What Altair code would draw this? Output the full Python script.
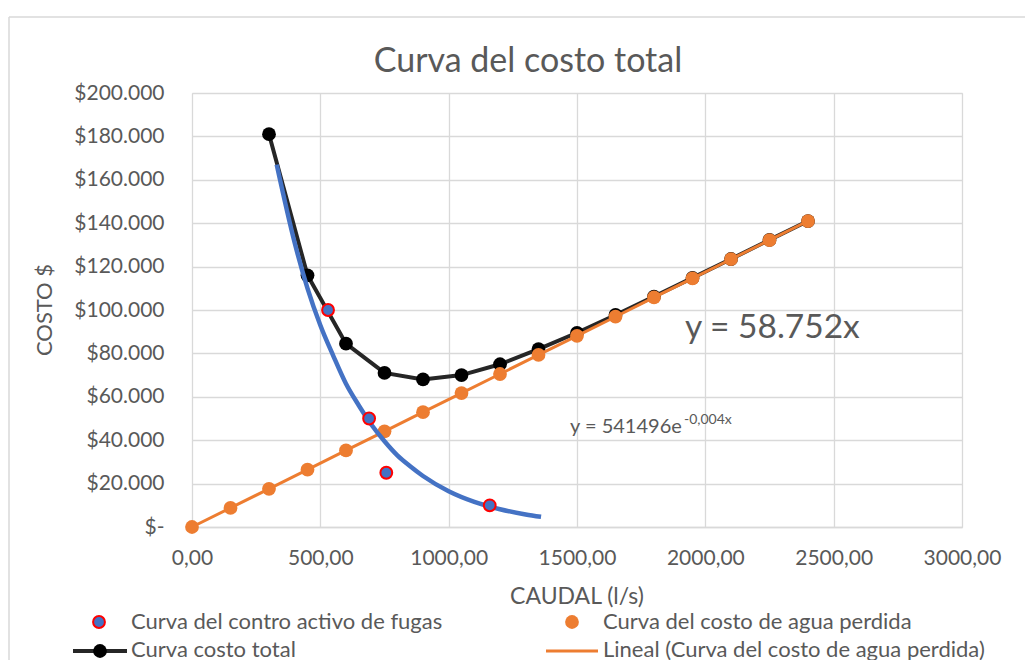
import altair as alt
import pandas as pd

# ---- data ----
agua_x = [0, 150, 300, 450, 600, 750, 900, 1050, 1200, 1350, 1500, 1650, 1800, 1950, 2100, 2250, 2400]
agua_y = [0, 8800, 17600, 26400, 35300, 44100, 52900, 61700, 70500, 79300, 88100, 96900, 105800, 114600, 123400, 132200, 141000]

total_x = [300, 450, 600, 750, 900, 1050, 1200, 1350, 1500, 1650, 1800, 1950, 2100, 2250, 2400]
total_y = [181000, 116000, 84500, 71000, 68000, 70000, 75000, 82000, 89500, 97700, 106200, 114800, 123500, 132300, 141000]

fugas_x = [530, 690, 757, 1160]
fugas_y = [100000, 50000, 25000, 10000]

trend_x = [330, 400, 450, 500, 550, 600, 650, 700, 750, 800, 850, 900, 1000, 1100, 1200, 1300, 1360]
trend_y = [167000, 131000, 110000, 93000, 79000, 66000, 56000, 47000, 39500, 33000, 28000, 23500, 16500, 11600, 8200, 5800, 4700]

TXT = "#595959"
FONT = "Lato"
BLUE = "#4472C4"
ORANGE = "#ED7D31"

agua = pd.DataFrame({"x": agua_x, "y": agua_y})
total = pd.DataFrame({"x": total_x, "y": total_y})
fugas = pd.DataFrame({"x": fugas_x, "y": fugas_y})
trend = pd.DataFrame({"x": trend_x, "y": trend_y})

W, H = 770, 434

xs = alt.Scale(domain=[0, 3000], nice=False)
ys = alt.Scale(domain=[0, 200000], nice=False)

xaxis = alt.Axis(values=[0, 500, 1000, 1500, 2000, 2500, 3000],
                 labelExpr="replace(format(datum.value, '.2f'), '.', ',')",
                 title=None, ticks=False, labelPadding=20, labelFontSize=21,
                 labelFlush=False, labelOverlap=False,
                 labelColor=TXT, labelFont=FONT, domain=True, domainColor="#d9d9d9",
                 domainWidth=1.5, gridColor="#d9d9d9", gridWidth=1.3)
yaxis = alt.Axis(values=list(range(0, 200001, 20000)),
                 labelExpr="datum.value == 0 ? '$-' : '$' + format(datum.value / 1000, 'd') + '.000'",
                 title=None, ticks=False, labelPadding=28, labelFontSize=21,
                 labelFlush=False, labelOverlap=False,
                 labelColor=TXT, labelFont=FONT, domain=False,
                 gridColor="#d9d9d9", gridWidth=1.3)

base_x = alt.X("x:Q", scale=xs, axis=xaxis)
base_y = alt.Y("y:Q", scale=ys, axis=yaxis)

total_line = alt.Chart(total).mark_line(color="#262626", strokeWidth=4).encode(x=base_x, y=base_y)
total_pts = alt.Chart(total).mark_circle(color="#000000", size=190, opacity=1).encode(x="x:Q", y="y:Q")

agua_line = alt.Chart(agua).mark_line(color=ORANGE, strokeWidth=3).encode(x="x:Q", y="y:Q")
agua_pts = alt.Chart(agua).mark_circle(color=ORANGE, size=190, opacity=1).encode(x="x:Q", y="y:Q")

trend_line = alt.Chart(trend).mark_line(color=BLUE, strokeWidth=4.5, interpolate="monotone").encode(x="x:Q", y="y:Q")
fugas_pts = alt.Chart(fugas).mark_point(shape="circle", filled=True, fill=BLUE, stroke="#FF0000",
                                        strokeWidth=2, size=140, opacity=1).encode(x="x:Q", y="y:Q")

one = pd.DataFrame({"a": [0]})


def txt(text, x, y, size, **kw):
    return alt.Chart(one).mark_text(text=text, fontSize=size, font=FONT, color=TXT, **kw).encode(
        x=alt.value(x), y=alt.value(y))


title = txt("Curva del costo total", 336, -31, 34, align="center", baseline="middle")
ytitle = txt("COSTO $", -147, 217, 22, align="center", baseline="middle", angle=270)
xtitle = txt("CAUDAL (l/s)", 385, 504, 23, align="center", baseline="middle")
eq1 = txt("y = 58.752x", 493, 235, 33.5, align="left", baseline="middle")
eq2 = txt("y = 541496e", 378, 334, 20, align="left", baseline="middle")
eq2s = txt("-0,004x", 492, 327, 14, align="left", baseline="middle")

# ---- legend ----
leg1_sym = alt.Chart(one).mark_point(shape="circle", filled=True, fill=BLUE, stroke="#FF0000",
                                     strokeWidth=2, size=140, opacity=1).encode(
    x=alt.value(99 - 192), y=alt.value(622 - 93))
leg1_txt = txt("Curva del contro activo de fugas", 131 - 192, 622 - 93, 22, align="left", baseline="middle")
leg2_sym = alt.Chart(one).mark_circle(color=ORANGE, size=190, opacity=1).encode(
    x=alt.value(572 - 192), y=alt.value(622 - 93))
leg2_txt = txt("Curva del costo de agua perdida", 603 - 192, 622 - 93, 22, align="left", baseline="middle")
leg3_line = alt.Chart(one).mark_rule(color="#262626", strokeWidth=4).encode(
    x=alt.value(73 - 192), x2=alt.value(127 - 192), y=alt.value(651 - 93))
leg3_sym = alt.Chart(one).mark_circle(color="#000000", size=190, opacity=1).encode(
    x=alt.value(100 - 192), y=alt.value(651 - 93))
leg3_txt = txt("Curva costo total", 131 - 192, 650 - 93, 22, align="left", baseline="middle")
leg4_line = alt.Chart(one).mark_rule(color=ORANGE, strokeWidth=3).encode(
    x=alt.value(546 - 192), x2=alt.value(598 - 192), y=alt.value(651 - 93))
leg4_txt = txt("Lineal (Curva del costo de agua perdida)", 603 - 192, 650 - 93, 22, align="left", baseline="middle")

# ---- chart area border ----
border_left = alt.Chart(one).mark_rule(color="#d9d9d9", strokeWidth=1.5).encode(
    x=alt.value(9 - 192), y=alt.value(17 - 93), y2=alt.value(700))
border_top = alt.Chart(one).mark_rule(color="#d9d9d9", strokeWidth=1.5).encode(
    x=alt.value(9 - 192), x2=alt.value(1100), y=alt.value(17 - 93))

chart = alt.layer(
    border_left, border_top,
    total_line, total_pts, agua_line, agua_pts, trend_line, fugas_pts,
    title, ytitle, xtitle, eq1, eq2, eq2s,
    leg1_sym, leg1_txt, leg2_sym, leg2_txt, leg3_line, leg3_sym, leg3_txt, leg4_line, leg4_txt,
).properties(
    width=W, height=H,
    autosize=alt.AutoSizeParams(type="none"),
    padding={"left": 184, "top": 85, "right": 63, "bottom": 150},
).configure_view(stroke=None).configure(background="white")

chart.save("out.html", embed_options={"renderer": "svg", "actions": False})
